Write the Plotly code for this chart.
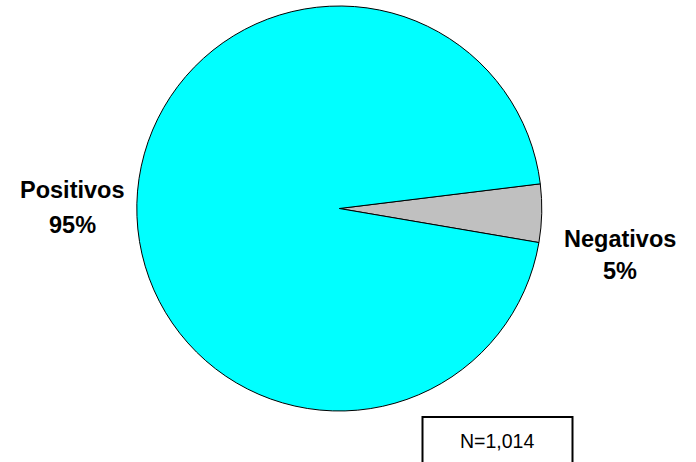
import plotly.graph_objects as go

labels = ["Negativos", "Positivos"]
values = [47, 967]
colors = ["#C0C0C0", "#00FFFF"]
n_label = "N=1,014"

W, H = 696, 462
cx, cy, r = 339.3, 208.5, 202.5

fig = go.Figure()
fig.add_trace(go.Pie(
    labels=labels, values=values, sort=False, direction="clockwise", rotation=83,
    marker=dict(colors=colors, line=dict(color="black", width=1)),
    textinfo="none", hoverinfo="label+percent", showlegend=False,
    domain=dict(x=[(cx - r) / W, (cx + r) / W], y=[(H - cy - r) / H, (H - cy + r) / H]),
))

total = sum(values)
pcts = [f"{round(v / total * 100)}%" for v in values]
# label positions (pixels): (x, y line1, y line2)
pos = {"Negativos": (620, 239, 271), "Positivos": (72, 190, 225)}
font = dict(family="Liberation Sans, Arial, sans-serif", size=23.5, color="black")
for lab, p in zip(labels, pcts):
    x, y1, y2 = pos[lab]
    for txt, yy in ((f"<b>{lab}</b>", y1), (f"<b>{p}</b>", y2)):
        fig.add_annotation(text=txt, x=x / W, y=1 - yy / H, xref="paper", yref="paper",
                           showarrow=False, xanchor="center", yanchor="middle", font=font)

fig.add_shape(type="rect", xref="paper", yref="paper",
              x0=422.5 / W, x1=572.5 / W, y0=1 - 470 / H, y1=1 - 417 / H,
              line=dict(color="black", width=2), fillcolor="white")
fig.add_annotation(text=n_label, x=497 / W, y=1 - 441 / H, xref="paper", yref="paper",
                   showarrow=False, xanchor="center", yanchor="middle",
                   font=dict(family="Liberation Sans, Arial, sans-serif", size=19.5, color="black"))

fig.update_layout(width=W, height=H, margin=dict(l=0, r=0, t=0, b=0),
                  paper_bgcolor="white", plot_bgcolor="white")
fig.write_html("out.html", config={"displayModeBar": False},
               post_script="document.body.style.margin='0';")
